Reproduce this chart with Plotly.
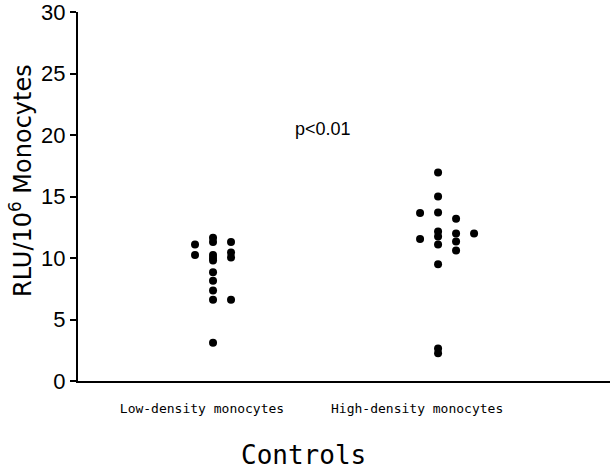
import plotly.graph_objects as go

# ---- data ----
categories = ["Low-density monocytes", "High-density monocytes"]
group_index = [1, 2]

low_values = [11.1, 10.25, 11.65, 11.3, 10.25, 10.0, 9.8, 8.85, 8.15, 7.35, 6.6, 3.1,
              11.3, 10.45, 10.05, 6.6]
low_columns = [-1, -1, 0, 0, 0, 0, 0, 0, 0, 0, 0, 0, 1, 1, 1, 1]

high_values = [16.95, 15.0, 13.7, 12.15, 11.75, 11.1, 9.5, 2.65, 2.25,
               13.65, 11.55, 13.2, 12.0, 11.35, 10.6, 12.0]
high_columns = [0, 0, 0, 0, 0, 0, 0, 0, 0, -1, -1, 1, 1, 1, 1, 2]

y_ticks = [0, 5, 10, 15, 20, 25, 30]
annotation_text = "p<0.01"
group_title = "Controls"
y_title = "RLU/10<sup>6</sup> Monocytes"

# ---- layout constants ----
COL_STEP = 0.08
LABEL_SHIFT = [-0.049, -0.093]

fig = go.Figure()
for gi, vals, cols in [(group_index[0], low_values, low_columns),
                       (group_index[1], high_values, high_columns)]:
    fig.add_trace(go.Scatter(
        x=[gi + c * COL_STEP for c in cols],
        y=vals,
        mode="markers",
        marker=dict(color="black", size=8, line=dict(width=0)),
        showlegend=False,
        hoverinfo="y",
        cliponaxis=False,
    ))

fig.update_layout(
    template="none",
    width=610, height=474,
    margin=dict(l=78, r=0, t=12, b=93, pad=0),
    paper_bgcolor="white", plot_bgcolor="white",
    xaxis=dict(
        range=[0.4, 2.764],
        automargin=False,
        showgrid=False, zeroline=False,
        showline=True, linecolor="black", linewidth=2,
        tickvals=[g + s for g, s in zip(group_index, LABEL_SHIFT)],
        ticktext=categories,
        ticks="",
        ticklabelstandoff=14,
        ticklabeloverflow="allow",
        tickfont=dict(family="DejaVu Sans Mono", size=13, color="black"),
    ),
    yaxis=dict(
        range=[0, 30.0001],
        automargin=False,
        tickvals=y_ticks,
        showgrid=False, zeroline=False,
        showline=True, linecolor="black", linewidth=2,
        ticks="outside", ticklen=6, tickwidth=1.5, tickcolor="black",
        ticklabelstandoff=0,
        ticklabeloverflow="allow",
        tickfont=dict(family="Liberation Sans Narrow, Liberation Sans", size=22, color="black"),
    ),
    annotations=[
        dict(text=annotation_text, x=1.489, y=20.5, xref="x", yref="y",
             showarrow=False, font=dict(family="Liberation Sans", size=18, color="black")),
        dict(text=group_title, x=(303.5 - 78) / 532, y=-(455 - 381) / 369,
             xref="paper", yref="paper", showarrow=False, xanchor="center", yanchor="middle",
             font=dict(family="DejaVu Sans Mono", size=26, color="black")),
        dict(text=y_title, x=(21 - 78) / 532, y=(381 - 181) / 369,
             xref="paper", yref="paper", showarrow=False, textangle=-90,
             xanchor="center", yanchor="middle",
             font=dict(family="DejaVu Sans", size=24, color="black")),
    ],
)

fig.write_html("out.html",
               config={"displayModeBar": False},
               post_script="document.body.style.margin='0px';document.body.style.overflow='hidden';")
